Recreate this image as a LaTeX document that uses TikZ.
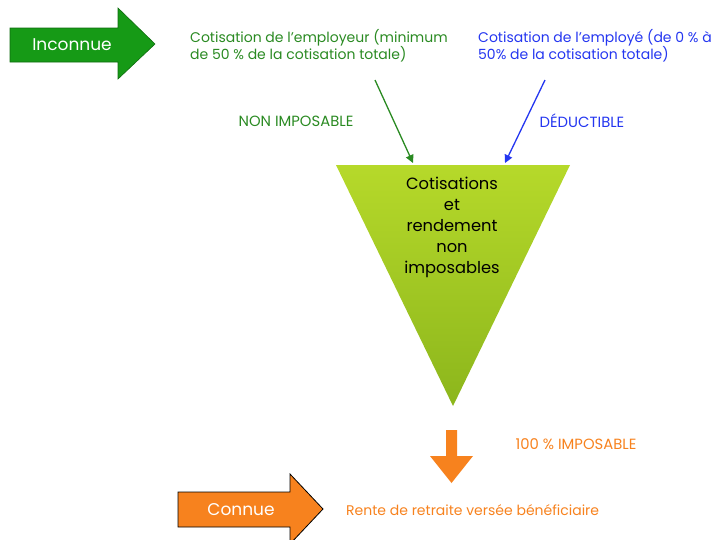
\documentclass[tikz,border=0pt]{standalone}
\usepackage{fontspec}
\setmainfont{Poppins}
\usetikzlibrary{arrows.meta}
\definecolor{cgreen}{HTML}{2A8A22}
\definecolor{cblue}{HTML}{2436F0}
\definecolor{corange}{HTML}{F7821E}
\definecolor{agreen}{HTML}{169A16}
\definecolor{ttop}{HTML}{B6D92A}
\definecolor{tbot}{HTML}{8CB61C}
\tikzset{
  captxt/.style={font=\fontsize{14}{17}\selectfont, anchor=west, align=left, inner sep=0pt},
  lbl/.style={font=\fontsize{14.8}{17}\selectfont, inner sep=0pt},
  big/.style={font=\fontsize{17}{21}\selectfont, text=white, inner sep=0pt},
  conn/.style={line width=1.3pt, -{Triangle[length=8pt,width=8pt]}},
}
\begin{document}
\begin{tikzpicture}[x=1pt,y=-1pt]
\useasboundingbox (0,0) rectangle (717,539);
% Inconnue arrow
\draw[fill=agreen, draw=agreen!70!black, line width=0.6pt]
  (10,28) -- (118,28) -- (118,8) -- (155,44) -- (118,79) -- (118,62) -- (10,62) -- cycle;
\node[big] (inc) at (72,45) {Inconnue};
% top texts
\node[captxt, text=cgreen] (emp) at (190,46) {Cotisation de l'employeur (minimum\\de 50 \% de la cotisation totale)};
\node[captxt, text=cblue] (emy) at (478,46) {Cotisation de l'employé (de 0 \% à\\50\% de la cotisation totale)};
\coordinate (g0) at (375,80);
\coordinate (b0) at (545,80);
\coordinate (g1) at (413,163);
\coordinate (b1) at (505,163);
\draw[conn, cgreen] (g0) -- (g1);
\draw[conn, cblue] (b0) -- (b1);
\node[lbl, text=cgreen] (ni) at (296,121) {NON IMPOSABLE};
\node[lbl, text=cblue] (de) at (582,121) {DÉDUCTIBLE};
% triangle
\shade[top color=ttop, bottom color=tbot] (336,165) -- (570,165) -- (453,406) -- cycle;
\node[font=\fontsize{16.3}{21}\selectfont, align=center, inner sep=0pt, anchor=north] (tri) at (452,177)
  {Cotisations\\et\\rendement\\non\\imposables};
% orange down arrow
\fill[corange] (446,430) -- (457,430) -- (457,456) -- (473,456) -- (451.5,483) -- (430,456) -- (446,456) -- cycle;
\node[lbl, text=corange] (imp) at (576,444) {100 \% IMPOSABLE};
% Connue arrow
\draw[fill=corange, draw=black, line width=0.8pt]
  (178,492) -- (290,492) -- (290,474) -- (323,509) -- (290,544) -- (290,527) -- (178,527) -- cycle;
\node[big] (con) at (241,510) {Connue};
\node[captxt, text=corange] (rente) at (346,510) {Rente de retraite versée bénéficiaire};
\end{tikzpicture}
\end{document}
